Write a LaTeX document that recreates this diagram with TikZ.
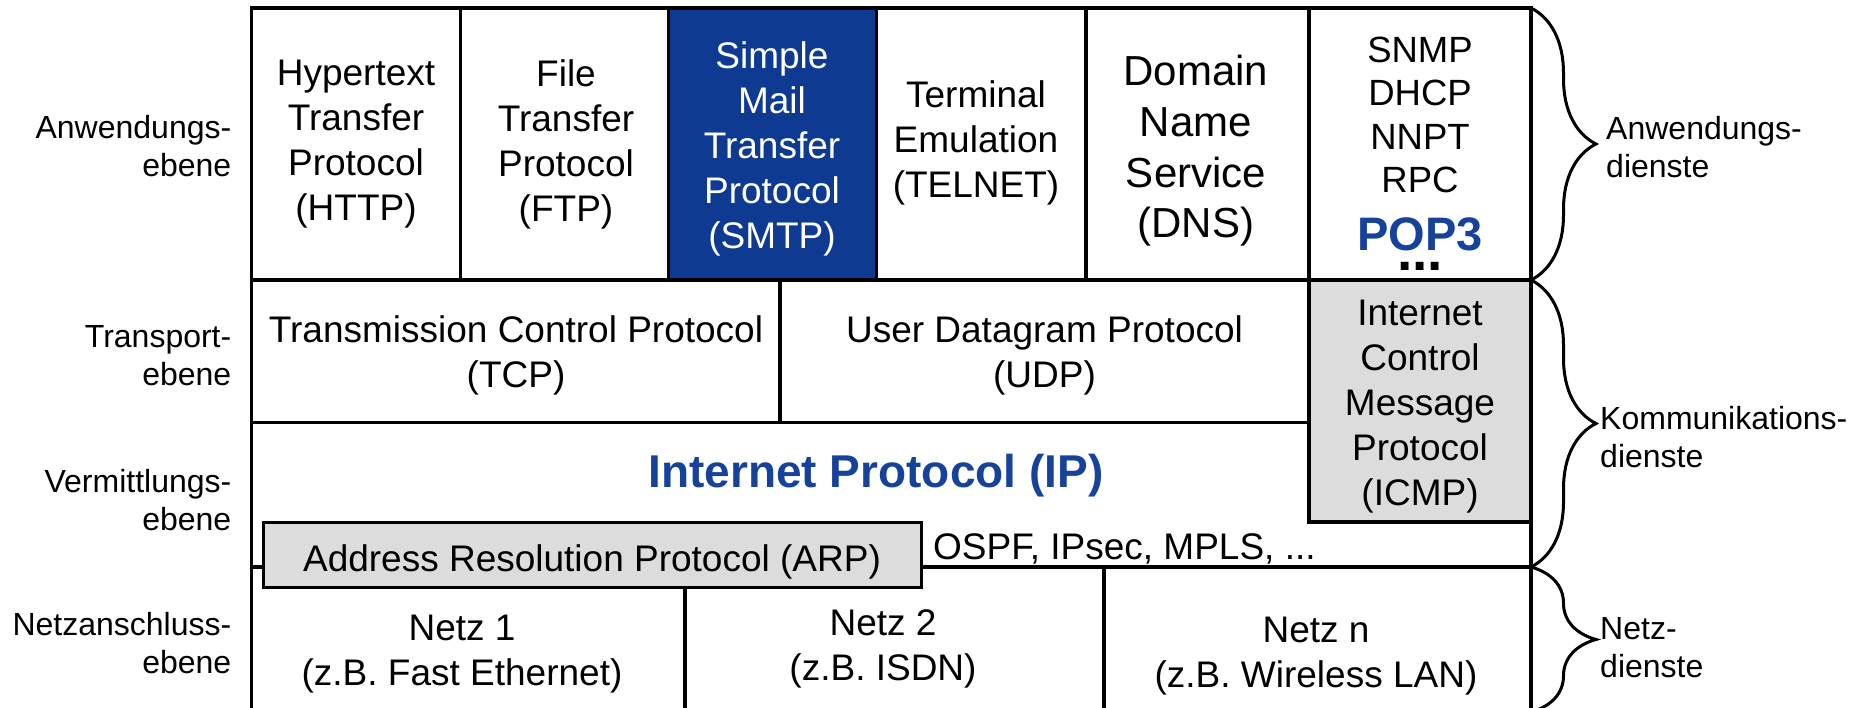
\documentclass[tikz,border=0pt]{standalone}
\usepackage{fontspec}
\setmainfont{Liberation Sans}
\usetikzlibrary{fit,decorations.pathreplacing}
\definecolor{smtpblue}{RGB}{14,58,146}
\definecolor{ipblue}{RGB}{22,66,156}
\definecolor{boxgray}{RGB}{220,220,220}
\newcommand{\fsz}[2]{\fontsize{#1}{#2}\selectfont}
\begin{document}
\begin{tikzpicture}[x=1pt,y=-1pt,
  cell/.style={draw=black, line width=3.5pt, fill=white, inner sep=0pt, outer sep=0pt},
  graycell/.style={cell, fill=boxgray},
  txt/.style={inner sep=0pt, align=center, font=\fsz{37}{45}},
  side/.style={inner sep=0pt, font=\fsz{32}{38}},
  brc/.style={decorate, decoration={brace, amplitude=65pt}, line width=3pt}
]
\useasboundingbox (0,0) rectangle (1861,708);
% row 1
\node[cell, fit={(251.5,8) (460.5,280)}] (httpbox) {};
\node[cell, fit={(460.5,8) (668.5,280)}] (ftpbox) {};
\node[cell, fill=smtpblue, fit={(668.5,8) (876.5,280)}] (smtpbox) {};
\node[cell, fit={(876.5,8) (1086,280)}] (telnetbox) {};
\node[cell, fit={(1086,8) (1309,280)}] (dnsbox) {};
\node[cell, fit={(1309,8) (1531,280)}] (snmpbox) {};
% row 2
\node[cell, fit={(251.5,280) (780,422.5)}] (tcpbox) {};
\node[cell, fit={(780,280) (1309,422.5)}] (udpbox) {};
% row 3
\node[cell, fit={(251.5,422.5) (1531,567)}] (ipbox) {};
\node[graycell, fit={(1309,280) (1531,522)}] (icmpbox) {};
% row 4
\node[cell, fit={(251.5,567) (685,712)}] (net1box) {};
\node[cell, fit={(685,567) (1104,712)}] (net2box) {};
\node[cell, fit={(1104,567) (1531,712)}] (netnbox) {};
\node[graycell, line width=3pt, fit={(263.5,522) (921,587)}] (arpbox) {};

% texts row 1
\node[txt] (http) at (356,144) {Hypertext\\Transfer\\Protocol\\(HTTP)};
\node[txt] (ftp) at (566,144) {File\\Transfer\\Protocol\\(FTP)};
\node[txt, text=white] (smtp) at (772,149) {Simple\\Mail\\Transfer\\Protocol\\(SMTP)};
\node[txt] (telnet) at (976,143) {Terminal\\Emulation\\(TELNET)};
\node[txt, font=\fsz{42}{50.6}] (dns) at (1196,151) {Domain\\Name\\Service\\(DNS)};
\node[txt, font=\fsz{36.5}{43.5}] (snmp) at (1420,115) {SNMP\\DHCP\\NNPT\\RPC};
\node[txt, font=\fsz{47}{47}\bfseries, text=ipblue] (pop) at (1420,234) {POP3};
\node[txt, font=\fsz{55}{55}\bfseries] (dots) at (1420,266) {...};
% row 2
\node[txt] (tcp) at (516,355.5) {Transmission Control Protocol\\(TCP)};
\node[txt] (udp) at (1044.5,355.5) {User Datagram Protocol\\(UDP)};
\node[txt] (icmp) at (1420,407) {Internet\\Control\\Message\\Protocol\\(ICMP)};
% row 3
\node[txt, font=\fsz{46}{46}\bfseries, text=ipblue] (ip) at (876,475.5) {Internet Protocol (IP)};
\node[txt] (arp) at (592,562) {Address Resolution Protocol (ARP)};
\node[txt, anchor=west] (ospf) at (933,549) {OSPF, IPsec, MPLS, ...};
% row 4
\node[txt] (net1) at (462,654) {Netz 1\\(z.B. Fast Ethernet)};
\node[txt] (net2) at (883,649) {Netz 2\\(z.B. ISDN)};
\node[txt] (netn) at (1316,656) {Netz n\\(z.B. Wireless LAN)};

% left labels
\node[side, anchor=east, align=right] (l1) at (231.5,146) {Anwendungs-\\ebene};
\node[side, anchor=east, align=right] (l2) at (231.5,356) {Transport-\\ebene};
\node[side, anchor=east, align=right] (l3) at (231.5,500) {Vermittlungs-\\ebene};
\node[side, anchor=east, align=right] (l4) at (231.5,643) {Netzanschluss-\\ebene};

% braces
\draw[brc] (snmpbox.north east) -- (snmpbox.south east);
\draw[brc] (icmpbox.north east) -- (ipbox.south east);
\draw[brc] (netnbox.north east) -- (netnbox.south east);

% right labels
\node[side, anchor=west, align=left] (r1) at (1606,147) {Anwendungs-\\dienste};
\node[side, anchor=west, align=left] (r2) at (1600,437) {Kommunikations-\\dienste};
\node[side, anchor=west, align=left] (r3) at (1600,648) {Netz-\\dienste};
\end{tikzpicture}
\end{document}
